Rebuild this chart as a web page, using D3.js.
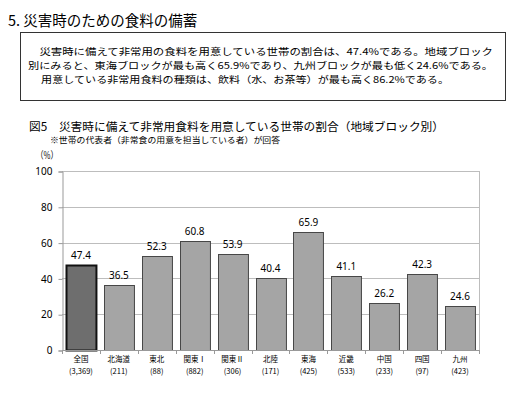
<!DOCTYPE html>
<html>
<head>
<meta charset="utf-8">
<script src="https://cdn.jsdelivr.net/npm/d3@7"></script>
<style>
  body { margin: 0; background: #fff; }
  text { font-family: "Noto Sans CJK JP", "Noto Sans", sans-serif; fill: #000; }
</style>
</head>
<body>
<div id="vis-container"></div>
<script>
//size
var w = 516;
var h = 395;

//data
var regions = ["全国", "北海道", "東北", "関東Ⅰ", "関東Ⅱ", "北陸", "東海", "近畿", "中国", "四国", "九州"];
var sampleSizes = ["(3,369)", "(211)", "(88)", "(882)", "(306)", "(171)", "(425)", "(533)", "(233)", "(97)", "(423)"];
var percents = [47.4, 36.5, 52.3, 60.8, 53.9, 40.4, 65.9, 41.1, 26.2, 42.3, 24.6];
var yTicks = [0, 20, 40, 60, 80, 100];

var summaryLines = [
    "　災害時に備えて非常用の食料を用意している世帯の割合は、47.4%である。地域ブロック",
    "別にみると、東海ブロックが最も高く65.9%であり、九州ブロックが最も低く24.6%である。",
    "　用意している非常用食料の種類は、飲料（水、お茶等）が最も高く86.2%である。"
];

var svg = d3.select("#vis-container")
    .append("svg")
    .attr("width", w)
    .attr("height", h);

//section heading
svg.append("text")
    .attr("x", 8)
    .attr("y", 26)
    .style("font-size", "14.5px")
    .text("5. 災害時のための食料の備蓄");

//summary box
svg.append("rect")
    .attr("x", 20.5)
    .attr("y", 32.5)
    .attr("width", 485)
    .attr("height", 68)
    .attr("fill", "none")
    .attr("stroke", "#333")
    .attr("stroke-width", 1);

// line spacing kept just above the CJK font's line box so lines don't collide
var lineX = [28, 28, 30];
var lineLen = [465, 465, 419];
svg.selectAll(".summary")
    .data(summaryLines)
    .enter().append("text")
    .attr("class", "summary")
    .attr("x", function (d, i) { return lineX[i]; })
    .attr("y", function (d, i) { return 55 + i * 14; })
    .attr("textLength", function (d, i) { return lineLen[i]; })
    .attr("lengthAdjust", "spacingAndGlyphs")
    .style("font-size", "9.6px")
    .text(function (d) { return d; });

//figure title and note
svg.append("text")
    .attr("x", 29)
    .attr("y", 131)
    .attr("textLength", 415)
    .attr("lengthAdjust", "spacingAndGlyphs")
    .style("font-size", "11.5px")
    .text("図5　災害時に備えて非常用食料を用意している世帯の割合（地域ブロック別）");

svg.append("text")
    .attr("x", 50)
    .attr("y", 143)
    .attr("textLength", 230)
    .attr("lengthAdjust", "spacingAndGlyphs")
    .style("font-size", "8.5px")
    .text("※世帯の代表者（非常食の用意を担当している者）が回答");

svg.append("text")
    .attr("x", 36)
    .attr("y", 159)
    .attr("textLength", 22)
    .attr("lengthAdjust", "spacingAndGlyphs")
    .style("font-size", "10px")
    .text("（%）");

//scales
var plotLeft = 62, plotRight = 479, plotTop = 171, plotBottom = 350;

var xScale = d3.scaleBand()
    .domain(regions)
    .range([plotLeft, plotRight])
    .paddingInner(0.21)
    .paddingOuter(0.105);

var yScale = d3.scaleLinear()
    .domain([0, 100])
    .range([plotBottom, plotTop]);

//gridlines
svg.selectAll(".grid")
    .data(yTicks.filter(function (d) { return d > 0; }))
    .enter().append("line")
    .attr("class", "grid")
    .attr("x1", plotLeft)
    .attr("x2", plotRight)
    .attr("y1", function (d) { return Math.round(yScale(d)) + 0.5; })
    .attr("y2", function (d) { return Math.round(yScale(d)) + 0.5; })
    .attr("stroke", "#bdbdbd");

//right border
svg.append("line")
    .attr("x1", plotRight + 0.5)
    .attr("x2", plotRight + 0.5)
    .attr("y1", yScale(100))
    .attr("y2", yScale(0))
    .attr("stroke", "#bdbdbd");

//y axis
var yAxis = d3.axisLeft(yScale).tickValues(yTicks).tickSize(4).tickPadding(6);
var gy = svg.append("g")
    .attr("class", "y axis")
    .attr("transform", "translate(" + (plotLeft + 0.5) + ",0.5)")
    .call(yAxis);
gy.select(".domain").attr("stroke", "#999");
gy.selectAll(".tick line").attr("stroke", "#999");
gy.selectAll(".tick text")
    .style("font-size", "10px")
    .style("font-family", "\"Noto Sans\", sans-serif")
    .attr("fill", "#000");

//bars
svg.selectAll(".bar")
    .data(percents)
    .enter().append("rect")
    .attr("class", "bar")
    .attr("x", function (d, i) { return Math.round(xScale(regions[i])) + 0.5; })
    .attr("y", function (d) { return Math.round(yScale(d)) + 0.5; })
    .attr("width", xScale.bandwidth())
    .attr("height", function (d) { return Math.round(yScale(0)) - Math.round(yScale(d)); })
    .attr("fill", function (d, i) { return i == 0 ? "#6e6e6e" : "#a5a5a5"; })
    .attr("stroke", function (d, i) { return i == 0 ? "#111" : "#474747"; })
    .attr("stroke-width", function (d, i) { return i == 0 ? 2 : 1; });

//value labels
svg.selectAll(".value")
    .data(percents)
    .enter().append("text")
    .attr("class", "value")
    .attr("x", function (d, i) { return xScale(regions[i]) + xScale.bandwidth() / 2; })
    .attr("y", function (d) { return yScale(d) - 6; })
    .attr("text-anchor", "middle")
    .style("font-size", "10px")
    .style("font-family", "\"Noto Sans\", sans-serif")
    .text(function (d) { return d.toFixed(1); });

//x axis
var step = xScale.step();
svg.append("line")
    .attr("x1", plotLeft)
    .attr("x2", plotRight + 1)
    .attr("y1", plotBottom + 0.5)
    .attr("y2", plotBottom + 0.5)
    .attr("stroke", "#999");

svg.selectAll(".xtick")
    .data(d3.range(regions.length + 1))
    .enter().append("line")
    .attr("class", "xtick")
    .attr("x1", function (d) { return Math.round(plotLeft + d * step) + 0.5; })
    .attr("x2", function (d) { return Math.round(plotLeft + d * step) + 0.5; })
    .attr("y1", plotBottom)
    .attr("y2", plotBottom + 4)
    .attr("stroke", "#999");

var xl = svg.selectAll(".xlabel")
    .data(regions)
    .enter().append("text")
    .attr("class", "xlabel")
    .attr("text-anchor", "middle")
    .style("font-size", "7.5px")
    .attr("fill", "#222");
xl.append("tspan")
    .attr("x", function (d) { return xScale(d) + xScale.bandwidth() / 2; })
    .attr("y", 362)
    .text(function (d) { return d; });
xl.append("tspan")
    .attr("x", function (d) { return xScale(d) + xScale.bandwidth() / 2; })
    .attr("y", 374)
    .text(function (d, i) { return sampleSizes[i]; });
</script>
</body>
</html>
